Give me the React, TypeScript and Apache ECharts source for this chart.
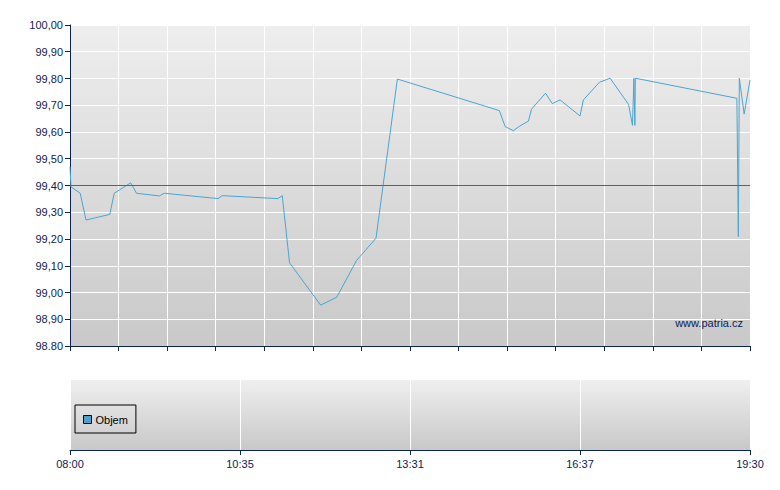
import React, { useEffect, useRef } from "react";
import * as echarts from "echarts";

// positions along the trading-session axis (slot units, 14 slots from 08:00 to 19:30)
const xPos = [0, 0.02, 0.21, 0.33, 0.82, 0.91, 1.25, 1.37, 1.84, 1.94, 3.05, 3.13, 4.28, 4.37, 4.52, 5.16, 5.49, 5.9, 6.3, 6.74, 8.84, 8.96, 9.13, 9.24, 9.44, 9.5, 9.79, 9.93, 10.09, 10.5, 10.57, 10.9, 11.12, 11.5, 11.58, 11.61, 11.63, 11.64, 13.73, 13.76, 13.78, 13.88, 14.0];
const prices = [99.47, 99.395, 99.371, 99.271, 99.292, 99.371, 99.41, 99.371, 99.361, 99.371, 99.351, 99.362, 99.351, 99.362, 99.111, 98.953, 98.982, 99.12, 99.203, 99.798, 99.68, 99.62, 99.605, 99.62, 99.641, 99.685, 99.745, 99.706, 99.72, 99.66, 99.72, 99.786, 99.801, 99.703, 99.625, 99.801, 99.625, 99.801, 99.726, 99.209, 99.801, 99.667, 99.794];
const referenceLevel = 99.4;
const yTickLabels = ["98.80", "98,90", "99,00", "99,10", "99,20", "99,30", "99,40", "99,50", "99,60", "99,70", "99,80", "99,90", "100,00"];
const xTickPositions = [0, 3.5, 7, 10.5, 14];
const xTickLabels = ["08:00", "10:35", "13:31", "16:37", "19:30"];
const volumeName = "Objem";
const watermark = "www.patria.cz";

const NAVY = "#0c2356";
const FONT = "'Liberation Sans', Arial, sans-serif";

export default function App() {
  const ref = useRef<HTMLDivElement>(null);
  useEffect(() => {
    if (!ref.current) return;
    const chart = echarts.init(ref.current, undefined, { renderer: "svg" });
    const bg = (top: string, bottom: string) => ({
      type: "linear", x: 0, y: 0, x2: 0, y2: 1,
      colorStops: [{ offset: 0, color: top }, { offset: 1, color: bottom }],
    });
    chart.setOption({
      animation: false,
      textStyle: { fontFamily: FONT },
      grid: [
        { left: 70, right: 30, top: 25, height: 321, show: true, backgroundColor: bg("#eeeeee", "#c9c9c9"), borderWidth: 0 },
        { left: 70, right: 30, top: 380, height: 70, show: true, backgroundColor: bg("#efefef", "#c8c8c8"), borderWidth: 0 },
      ],
      legend: {
        data: [volumeName],
        left: 75, top: 405,
        orient: "vertical",
        padding: [9, 8, 8, 8],
        itemWidth: 8, itemHeight: 8, itemGap: 4,
        borderColor: "#000", borderWidth: 1, borderRadius: 0,
        icon: "rect",
        selectedMode: false,
        textStyle: { color: "#000", fontSize: 11, fontFamily: FONT, padding: [0, 0, 0, -1] },
        itemStyle: { borderColor: "#000", borderWidth: 1 },
      },
      xAxis: [
        {
          type: "value", gridIndex: 0, min: 0, max: 14, interval: 1,
          axisLine: { show: true, lineStyle: { color: NAVY, width: 1 } },
          axisTick: { show: true, length: 5, lineStyle: { color: NAVY } },
          axisLabel: { show: false },
          splitLine: { show: true, lineStyle: { color: "#ffffff", width: 1 } },
        },
        {
          type: "value", gridIndex: 1, min: 0, max: 14, interval: 3.5,
          axisLine: { show: true, lineStyle: { color: NAVY, width: 1 } },
          axisTick: { show: true, length: 5, lineStyle: { color: NAVY } },
          axisLabel: {
            color: NAVY, fontSize: 11, fontFamily: FONT, margin: 8,
            formatter: (v: number) => {
              const i = xTickPositions.findIndex((p) => Math.abs(p - v) < 1e-6);
              return i >= 0 ? xTickLabels[i] : "";
            },
          },
          splitLine: { show: true, lineStyle: { color: "#ffffff", width: 1 } },
        },
      ],
      yAxis: [
        {
          type: "value", gridIndex: 0, min: 98.8, max: 100, interval: 0.1,
          axisLine: { show: true, lineStyle: { color: NAVY, width: 1 } },
          axisTick: { show: true, length: 5, lineStyle: { color: NAVY } },
          axisLabel: {
            color: NAVY, fontSize: 11, fontFamily: FONT, margin: 7,
            formatter: (v: number) => {
              const i = Math.round((v - 98.8) / 0.1);
              return yTickLabels[i] ?? "";
            },
          },
          splitLine: { show: true, lineStyle: { color: "#ffffff", width: 1 } },
        },
        {
          type: "value", gridIndex: 1, min: 0, max: 1,
          axisLine: { show: false }, axisTick: { show: false },
          axisLabel: { show: false }, splitLine: { show: false },
        },
      ],
      series: [
        {
          name: "Cena",
          type: "line",
          xAxisIndex: 0, yAxisIndex: 0,
          data: xPos.map((x, i) => [x, prices[i]]),
          showSymbol: false,
          symbol: "none",
          lineStyle: { color: "#4ba5cf", width: 1 },
          itemStyle: { color: "#4ba5cf" },
          markLine: {
            silent: true,
            symbol: "none",
            label: { show: false },
            lineStyle: { color: "#c83535", width: 1, type: "solid" },
            data: [{ yAxis: referenceLevel }],
          },
          z: 3,
        },
        {
          name: volumeName,
          type: "bar",
          xAxisIndex: 1, yAxisIndex: 1,
          data: [],
          itemStyle: { color: "#4aa3cc" },
        },
      ],
      graphic: [
        {
          type: "text",
          right: 37, top: 317,
          style: { text: watermark, fill: NAVY, font: `11px ${FONT}` },
          z: 10,
        },
      ],
    });
    return () => chart.dispose();
  }, []);
  return <div ref={ref} style={{ width: 780, height: 490, margin: -8 }} />;
}
